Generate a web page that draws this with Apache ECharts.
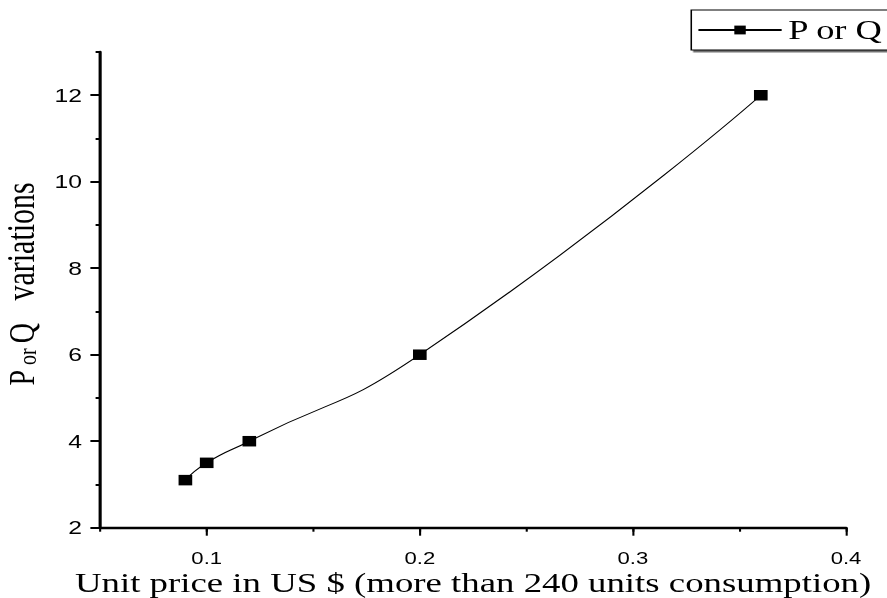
<!DOCTYPE html>
<html>
<head>
<meta charset="utf-8">
<script src="https://cdn.jsdelivr.net/npm/echarts@6/dist/echarts.min.js"></script>
<style>
  html, body { margin: 0; padding: 0; background: #fff; overflow: hidden; }
  /* the figure is laid out narrow and widened horizontally */
  #chart { width: 682px; height: 598px; transform: scaleX(1.3006); transform-origin: 0 0; }
</style>
</head>
<body>
<div id="chart"></div>
<script>
// Unit price (US $) and the corresponding P or Q variation
const unitPrice = [0.09, 0.10, 0.12, 0.20, 0.36];
const pqValues  = [3.1, 3.5, 4.0, 6.0, 12.0];

// Labelled (long) ticks on each axis
const xMajorTicks = [0.1, 0.2, 0.3, 0.4];
const yMajorTicks = [2, 4, 6, 8, 10, 12];

const seriesName = 'P or Q';
const xTitle = 'Unit price in US $ (more than 240 units consumption)';

const sans = "'Liberation Sans', Arial, sans-serif";
const serif = "'Liberation Serif', 'Times New Roman', serif";

const X_MIN = 0.05, X_MAX = 0.4;
const Y_MIN = 2, Y_MAX = 13;

const gridBox = { left: 77, right: 31.5, top: 52, bottom: 70.3, outerBoundsMode: 'none' };

const chart = echarts.init(document.getElementById('chart'), null, { renderer: 'svg' });

chart.setOption({
  animation: false,
  backgroundColor: '#fff',
  grid: [
    Object.assign({}, gridBox),   // main plot with long ticks and labels
    Object.assign({}, gridBox)    // short (minor) ticks only
  ],
  legend: {
    data: [seriesName],
    left: 531.5,
    top: 10,
    itemWidth: 64,
    itemHeight: 11,
    padding: [6, 6, 6, 4.5],
    borderColor: '#000',
    borderWidth: 1.2,
    backgroundColor: '#fff',
    shadowColor: 'rgba(0,0,0,0.55)',
    shadowOffsetX: 2,
    shadowOffsetY: 2,
    shadowBlur: 0,
    selectedMode: false,
    textStyle: { fontFamily: serif, fontSize: 28, color: '#000' }
  },
  xAxis: [
    {
      gridIndex: 0,
      type: 'value',
      min: X_MIN, max: X_MAX, interval: 0.05,
      axisLine: { show: true, lineStyle: { color: '#000', width: 2.4 } },
      axisTick: { show: true, customValues: xMajorTicks, length: 8, lineStyle: { color: '#000', width: 1.6 } },
      axisLabel: { show: true, customValues: xMajorTicks, margin: 23, lineHeight: 14, fontFamily: sans, fontSize: 17, color: '#000' },
      splitLine: { show: false },
      name: xTitle,
      nameLocation: 'middle',
      nameGap: 42.5,
      nameMoveOverlap: false,
      nameTextStyle: { fontFamily: serif, fontSize: 28.3, lineHeight: 24, color: '#000' }
    },
    {
      gridIndex: 1,
      type: 'value',
      min: X_MIN, max: X_MAX, interval: 0.05,
      axisLine: { show: false },
      axisTick: { show: true, length: 4, lineStyle: { color: '#000', width: 1.6 } },
      axisLabel: { show: false },
      splitLine: { show: false }
    }
  ],
  yAxis: [
    {
      gridIndex: 0,
      type: 'value',
      min: Y_MIN, max: Y_MAX, interval: 1,
      axisLine: { show: true, lineStyle: { color: '#000', width: 2.4 } },
      axisTick: { show: true, customValues: yMajorTicks, length: 7.5, lineStyle: { color: '#000', width: 2 } },
      axisLabel: { show: true, customValues: yMajorTicks, margin: 14, fontFamily: sans, fontSize: 19, color: '#000' },
      splitLine: { show: false },
      name: '{pq|P}{or| or }{pq|Q}{v|   variations}',
      nameLocation: 'middle',
      nameGap: 46,
      nameMoveOverlap: false,
      nameTextStyle: {
        color: '#000',
        padding: [0, 0, 0, 12],
        rich: {
          pq: { fontFamily: serif, fontSize: 28, color: '#000', verticalAlign: 'bottom' },
          or: { fontFamily: serif, fontSize: 20, color: '#000', verticalAlign: 'bottom' },
          v:  { fontFamily: serif, fontSize: 30, color: '#000', verticalAlign: 'bottom' }
        }
      }
    },
    {
      gridIndex: 1,
      type: 'value',
      min: Y_MIN, max: Y_MAX, interval: 1,
      axisLine: { show: false },
      axisTick: { show: true, length: 3.5, lineStyle: { color: '#000', width: 2 } },
      axisLabel: { show: false },
      splitLine: { show: false }
    }
  ],
  series: [
    {
      name: seriesName,
      type: 'line',
      xAxisIndex: 0,
      yAxisIndex: 0,
      data: unitPrice.map((x, i) => [x, pqValues[i]]),
      smooth: 0.55,
      symbol: 'rect',
      symbolSize: 10.5,
      showAllSymbol: true,
      lineStyle: { color: '#000', width: 1 },
      itemStyle: { color: '#000' },
      z: 3
    }
  ]
});
</script>
</body>
</html>
